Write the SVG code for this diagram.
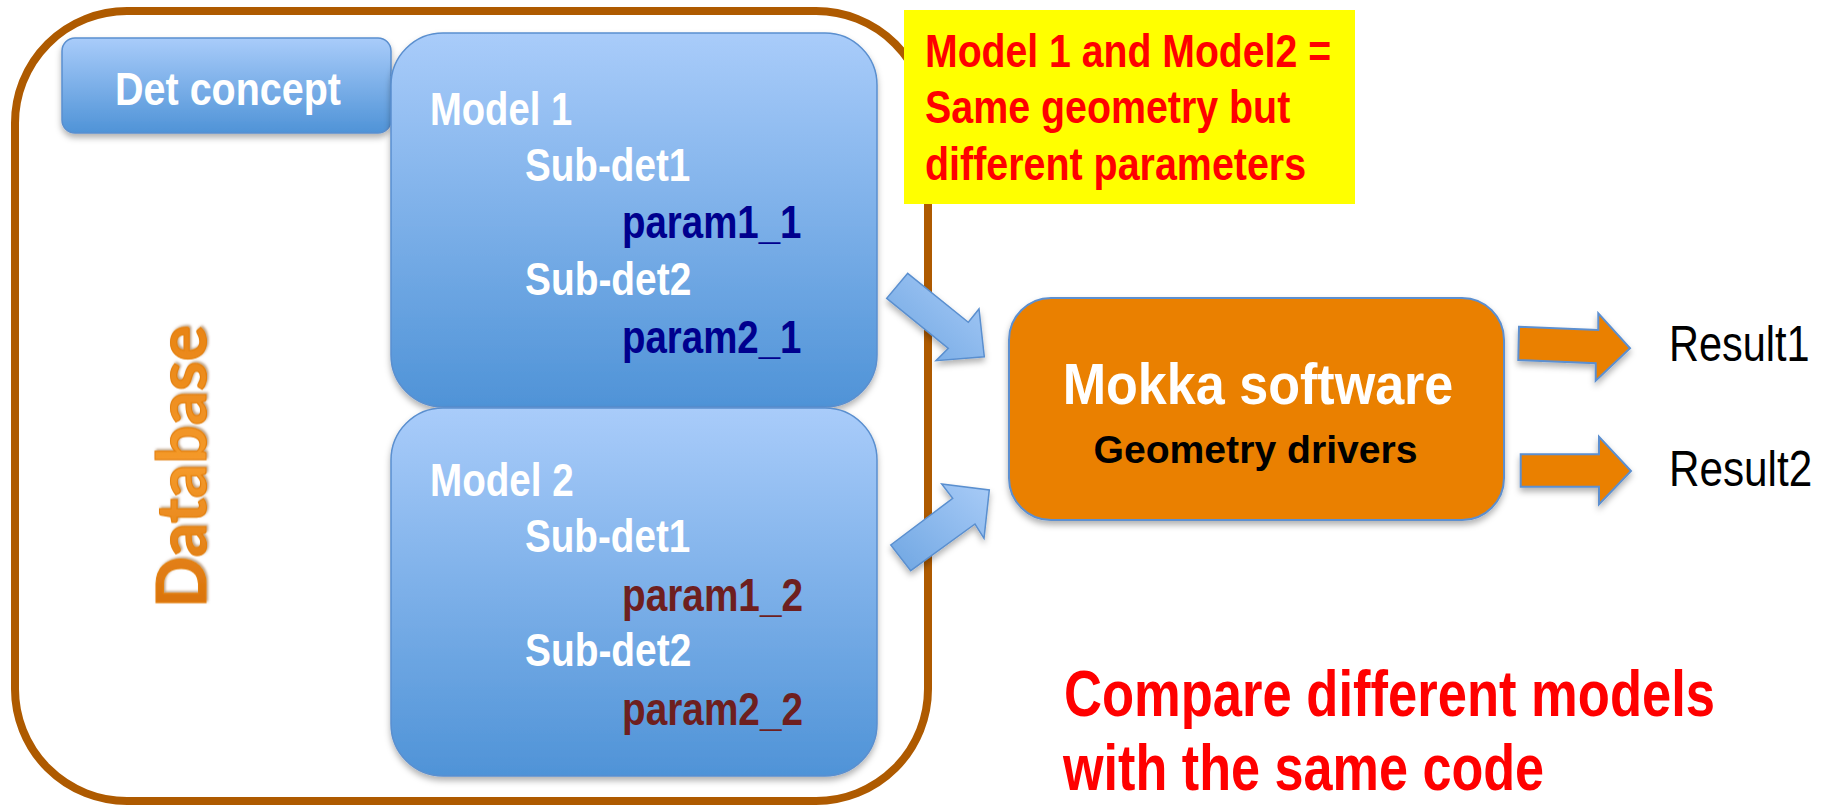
<svg xmlns="http://www.w3.org/2000/svg" width="1829" height="806" viewBox="0 0 1829 806">
<defs>
<linearGradient id="blueV" x1="0" y1="0" x2="0" y2="1">
<stop offset="0" stop-color="#A9CCFA"/>
<stop offset="1" stop-color="#4F93D7"/>
</linearGradient>
<linearGradient id="blueArrow" x1="1" y1="0" x2="0" y2="1">
<stop offset="0" stop-color="#A8CBF7"/>
<stop offset="1" stop-color="#6FA6E2"/>
</linearGradient>
<linearGradient id="dbGrad" x1="0" y1="0" x2="1" y2="0">
<stop offset="0" stop-color="#D9720C"/>
<stop offset="0.5" stop-color="#F59A2A"/>
<stop offset="1" stop-color="#E88416"/>
</linearGradient>
<filter id="shadow" x="-10%" y="-10%" width="120%" height="130%">
<feDropShadow dx="0" dy="4" stdDeviation="3" flood-color="#000" flood-opacity="0.3"/>
</filter>
<filter id="tshadow" x="-10%" y="-10%" width="130%" height="130%">
<feDropShadow dx="1.5" dy="1.5" stdDeviation="1" flood-color="#7A3E00" flood-opacity="0.5"/>
</filter>
</defs>
<style>
.nb{font-family:"Liberation Sans",Arial,sans-serif;font-weight:bold;}
.nr{font-family:"Liberation Sans",Arial,sans-serif;font-weight:normal;}
.white{fill:#FFFFFF;}
.navy{fill:#00008E;}
.maroon{fill:#6E1F1F;}
.red{fill:#FF0000;}
.black{fill:#000000;}
.bluebox{fill:url(#blueV);stroke:#5A8FCF;stroke-width:1.5;filter:url(#shadow);}
.barrow{fill:url(#blueArrow);stroke:#5A8FCF;stroke-width:1.5;filter:url(#shadow);}
.oarrow{fill:#EA8006;stroke:#5B8FD0;stroke-width:2;filter:url(#shadow);}
</style>
<rect width="1829" height="806" fill="#FFFFFF"/>

<g id="database">
<rect x="15" y="11" width="913" height="790" rx="112" ry="112" fill="#FFFFFF" stroke="#AE5A00" stroke-width="8"/>
<text transform="translate(206,466.5) rotate(-90)" text-anchor="middle" font-family="Lato,'Open Sans',sans-serif" font-weight="bold" font-size="68" fill="url(#dbGrad)" stroke="#E4800F" stroke-width="1.2" filter="url(#tshadow)" textLength="283" lengthAdjust="spacingAndGlyphs">Database</text>
</g>

<g id="det-concept">
<rect class="bluebox" x="62" y="38" width="329" height="95" rx="13" ry="13"/>
<text class="nb white" transform="translate(228,105) scale(0.858,1)" font-size="46" text-anchor="middle">Det concept</text>
</g>

<g id="model1">
<rect class="bluebox" x="391" y="33" width="486" height="374" rx="52" ry="52"/>
<text class="nb white" transform="translate(430,125) scale(0.83,1)" font-size="46">Model 1</text>
<text class="nb white" transform="translate(525,181) scale(0.84,1)" font-size="46">Sub-det1</text>
<text class="nb navy" transform="translate(622,238) scale(0.836,1)" font-size="46">param1_1</text>
<text class="nb white" transform="translate(525,295) scale(0.845,1)" font-size="46">Sub-det2</text>
<text class="nb navy" transform="translate(622,353) scale(0.836,1)" font-size="46">param2_1</text>
</g>

<g id="model2">
<rect class="bluebox" x="391" y="408" width="486" height="368" rx="52" ry="52"/>
<text class="nb white" transform="translate(430,496) scale(0.84,1)" font-size="46">Model 2</text>
<text class="nb white" transform="translate(525,552) scale(0.84,1)" font-size="46">Sub-det1</text>
<text class="nb maroon" transform="translate(622,611) scale(0.843,1)" font-size="46">param1_2</text>
<text class="nb white" transform="translate(525,666) scale(0.845,1)" font-size="46">Sub-det2</text>
<text class="nb maroon" transform="translate(622,725) scale(0.843,1)" font-size="46">param2_2</text>
</g>

<g id="note">
<rect x="904" y="10" width="451" height="194" fill="#FFFF00"/>
<text class="nb red" transform="translate(925,67) scale(0.852,1)" font-size="46">Model 1 and Model2 =</text>
<text class="nb red" transform="translate(925,123) scale(0.856,1)" font-size="46">Same geometry but</text>
<text class="nb red" transform="translate(925,180) scale(0.857,1)" font-size="46">different parameters</text>
</g>

<g id="connectors">
<polygon class="barrow" points="907.7,273.3 968.3,322.3 979,309 984.3,356.7 936,360.7 948.3,348.3 886.7,298.3"/>
<polygon class="barrow" points="890.7,545 952.7,498.3 941.7,484 989.3,490 984,538.3 975,524 910.7,570.7"/>
<polygon class="oarrow" points="1519,326.7 1598.3,330 1598.3,313.3 1630,348.3 1595.7,380.7 1595.7,363.3 1518.3,360"/>
<polygon class="oarrow" points="1520.7,454.3 1599,454.3 1599,436.7 1631,471 1599,504.3 1599,486.7 1520.7,486.7"/>
</g>

<g id="mokka">
<rect x="1009" y="298" width="495" height="222" rx="42" ry="42" fill="#EA8006" stroke="#5B8FD0" stroke-width="2" filter="url(#shadow)"/>
<text class="nb white" transform="translate(1258,404) scale(0.898,1)" font-size="58" text-anchor="middle">Mokka software</text>
<text class="nb black" transform="translate(1255.5,463) scale(1.03,1)" font-size="38" text-anchor="middle">Geometry drivers</text>
</g>

<g id="result1">
<text class="nr black" transform="translate(1669,361) scale(0.83,1)" font-size="50">Result1</text>
</g>
<g id="result2">
<text class="nr black" transform="translate(1669,486) scale(0.845,1)" font-size="50">Result2</text>
</g>

<g id="summary">
<text class="nb red" transform="translate(1064,716) scale(0.821,1)" font-size="64">Compare different models</text>
<text class="nb red" transform="translate(1063,790) scale(0.815,1)" font-size="64">with the same code</text>
</g>
</svg>
